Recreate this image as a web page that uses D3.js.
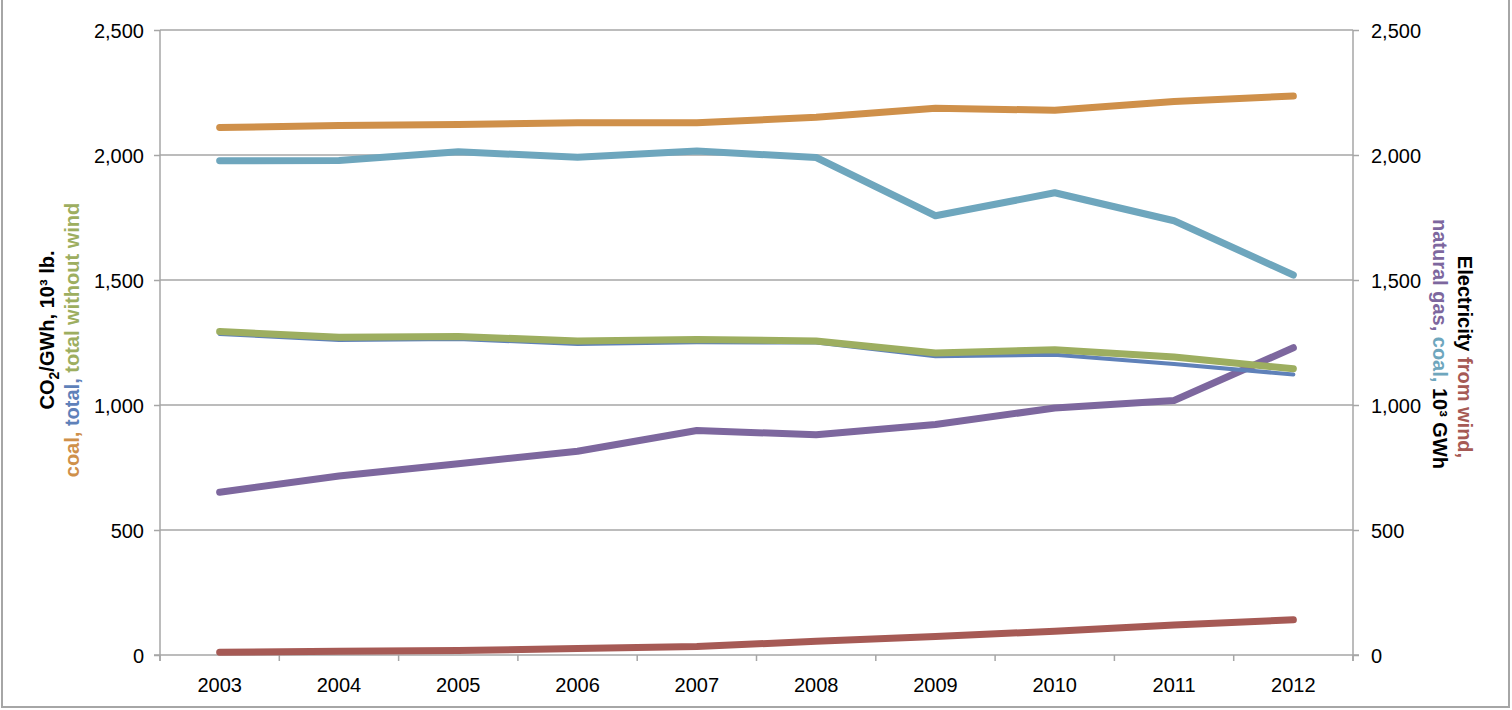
<!DOCTYPE html>
<html>
<head>
<meta charset="utf-8">
<script src="https://cdn.jsdelivr.net/npm/d3@7"></script>
<style>
  body { margin: 0; background: #fff; }
  svg { font-family: "Liberation Sans", Arial, sans-serif; }
</style>
</head>
<body>
<div id="chart"></div>
<script>
var years = ["2003", "2004", "2005", "2006", "2007", "2008", "2009", "2010", "2011", "2012"];

// left axis: CO2 per GWh, 10^3 lb
var co2Coal = [2110, 2118, 2122, 2129, 2129, 2151, 2187, 2179, 2214, 2236];
var co2Total = [1284, 1260, 1264, 1244, 1251, 1250, 1195, 1201, 1164, 1122];
var co2NoWind = [1294, 1271, 1274, 1256, 1262, 1256, 1208, 1221, 1192, 1145];

// right axis: electricity, 10^3 GWh
var elecWind = [11, 15, 18, 26, 34, 55, 74, 95, 120, 141];
var elecGas = [651, 716, 765, 815, 898, 881, 922, 988, 1018, 1229];
var elecCoal = [1977, 1978, 2013, 1991, 2016, 1990, 1757, 1849, 1737, 1520];

var yTicks = [0, 500, 1000, 1500, 2000, 2500];

var W = 1512, H = 710;
var margin = { top: 30, right: 160, bottom: 55, left: 160 };
var width = 1353 - margin.left;
var height = 655 - margin.top;

var svg = d3
  .select("#chart")
  .append("svg")
  .attr("width", W)
  .attr("height", H);

// outer frame
svg
  .append("rect")
  .attr("x", 2)
  .attr("y", -4)
  .attr("width", 1507)
  .attr("height", 711)
  .attr("fill", "none")
  .attr("stroke", "#a6a6a6")
  .attr("stroke-width", 2);

var g = svg
  .append("g")
  .attr("transform", "translate(" + margin.left + "," + margin.top + ")");

var x = d3.scaleBand().domain(years).range([0, width]);
var yL = d3.scaleLinear().domain([0, 2500]).range([height, 0]);
var yR = d3.scaleLinear().domain([0, 2500]).range([height, 0]);

var gridColor = "#a6a6a6";

// gridlines
g.append("g")
  .selectAll("line")
  .data(yTicks.slice(1))
  .enter()
  .append("line")
  .attr("x1", 0)
  .attr("x2", width)
  .attr("y1", function (d) { return yL(d); })
  .attr("y2", function (d) { return yL(d); })
  .attr("stroke", gridColor)
  .attr("stroke-width", 1.5);

// left axis
var leftAxis = g
  .append("g")
  .call(d3.axisLeft(yL).tickValues(yTicks).tickSize(6).tickPadding(10).tickFormat(d3.format(",")));
leftAxis.select(".domain").attr("stroke", gridColor).attr("stroke-width", 1.5).attr("d", "M0," + (height + 6) + "V0");
leftAxis.selectAll(".tick line").attr("stroke", gridColor).attr("stroke-width", 1.5);
leftAxis.selectAll("text").attr("font-size", 20).attr("fill", "#000").attr("dy", "0.36em");

// right axis
var rightAxis = g
  .append("g")
  .attr("transform", "translate(" + width + ",0)")
  .call(d3.axisRight(yR).tickValues(yTicks).tickSize(6).tickPadding(12).tickFormat(d3.format(",")));
rightAxis.select(".domain").attr("stroke", gridColor).attr("stroke-width", 1.5).attr("d", "M0," + (height + 6) + "V0");
rightAxis.selectAll(".tick line").attr("stroke", gridColor).attr("stroke-width", 1.5);
rightAxis.selectAll("text").attr("font-size", 20).attr("fill", "#000").attr("dy", "0.36em");

// bottom axis, ticks between categories
var xTickPos = d3.range(years.length + 1).map(function (i) { return i * x.step(); });
g.append("line")
  .attr("x1", -6)
  .attr("x2", width + 6)
  .attr("y1", height)
  .attr("y2", height)
  .attr("stroke", gridColor)
  .attr("stroke-width", 1.5);
g.append("g")
  .selectAll("line")
  .data(xTickPos)
  .enter()
  .append("line")
  .attr("x1", function (d) { return d; })
  .attr("x2", function (d) { return d; })
  .attr("y1", height)
  .attr("y2", height + 6)
  .attr("stroke", gridColor)
  .attr("stroke-width", 1.5);
g.append("g")
  .selectAll("text")
  .data(years)
  .enter()
  .append("text")
  .attr("x", function (d) { return x(d) + x.bandwidth() / 2; })
  .attr("y", height + 37)
  .attr("text-anchor", "middle")
  .attr("font-size", 20)
  .text(function (d) { return d; });

// series
var series = [
  { values: elecWind, scale: yR, color: "#a65a55", w: 7 },
  { values: elecGas, scale: yR, color: "#7d679e", w: 7 },
  { values: elecCoal, scale: yR, color: "#6ea6bd", w: 7 },
  { values: co2Coal, scale: yL, color: "#cf904a", w: 7 },
  { values: co2Total, scale: yL, color: "#5f81b9", w: 4 },
  { values: co2NoWind, scale: yL, color: "#9dae60", w: 7 }
];

series.forEach(function (s) {
  var line = d3
    .line()
    .x(function (d, i) { return x(years[i]) + x.bandwidth() / 2; })
    .y(function (d) { return s.scale(d); });
  g.append("path")
    .datum(s.values)
    .attr("d", line)
    .attr("fill", "none")
    .attr("stroke", s.color)
    .attr("stroke-width", s.w)
    .attr("stroke-linecap", "round")
    .attr("stroke-linejoin", "round");
});

// left axis title
var lt = svg
  .append("text")
  .attr("transform", "translate(54,330) rotate(-90)")
  .attr("text-anchor", "middle")
  .attr("font-size", 20)
  .attr("font-weight", "bold");
lt.append("tspan").attr("fill", "#000").text("CO");
lt.append("tspan").attr("font-size", 14).attr("dy", 5).text("2");
lt.append("tspan").attr("dy", -5).text("/GWh, 10³ lb.");
var lt2 = svg
  .append("text")
  .attr("transform", "translate(79,340) rotate(-90)")
  .attr("text-anchor", "middle")
  .attr("font-size", 20)
  .attr("font-weight", "bold");
lt2.append("tspan").attr("fill", "#cf904a").text("coal, ");
lt2.append("tspan").attr("fill", "#5f81b9").text("total, ");
lt2.append("tspan").attr("fill", "#9dae60").text("total without wind");

// right axis title
var rt = svg
  .append("text")
  .attr("transform", "translate(1458,357) rotate(90)")
  .attr("text-anchor", "middle")
  .attr("font-size", 20)
  .attr("font-weight", "bold");
rt.append("tspan").attr("fill", "#000").text("Electricity ");
rt.append("tspan").attr("fill", "#a65a55").text("from wind,");
var rt2 = svg
  .append("text")
  .attr("transform", "translate(1433,344) rotate(90)")
  .attr("text-anchor", "middle")
  .attr("font-size", 20)
  .attr("font-weight", "bold");
rt2.append("tspan").attr("fill", "#7d679e").text("natural gas, ");
rt2.append("tspan").attr("fill", "#6ea6bd").text("coal, ");
rt2.append("tspan").attr("fill", "#000").text("10³ GWh");
</script>
</body>
</html>
